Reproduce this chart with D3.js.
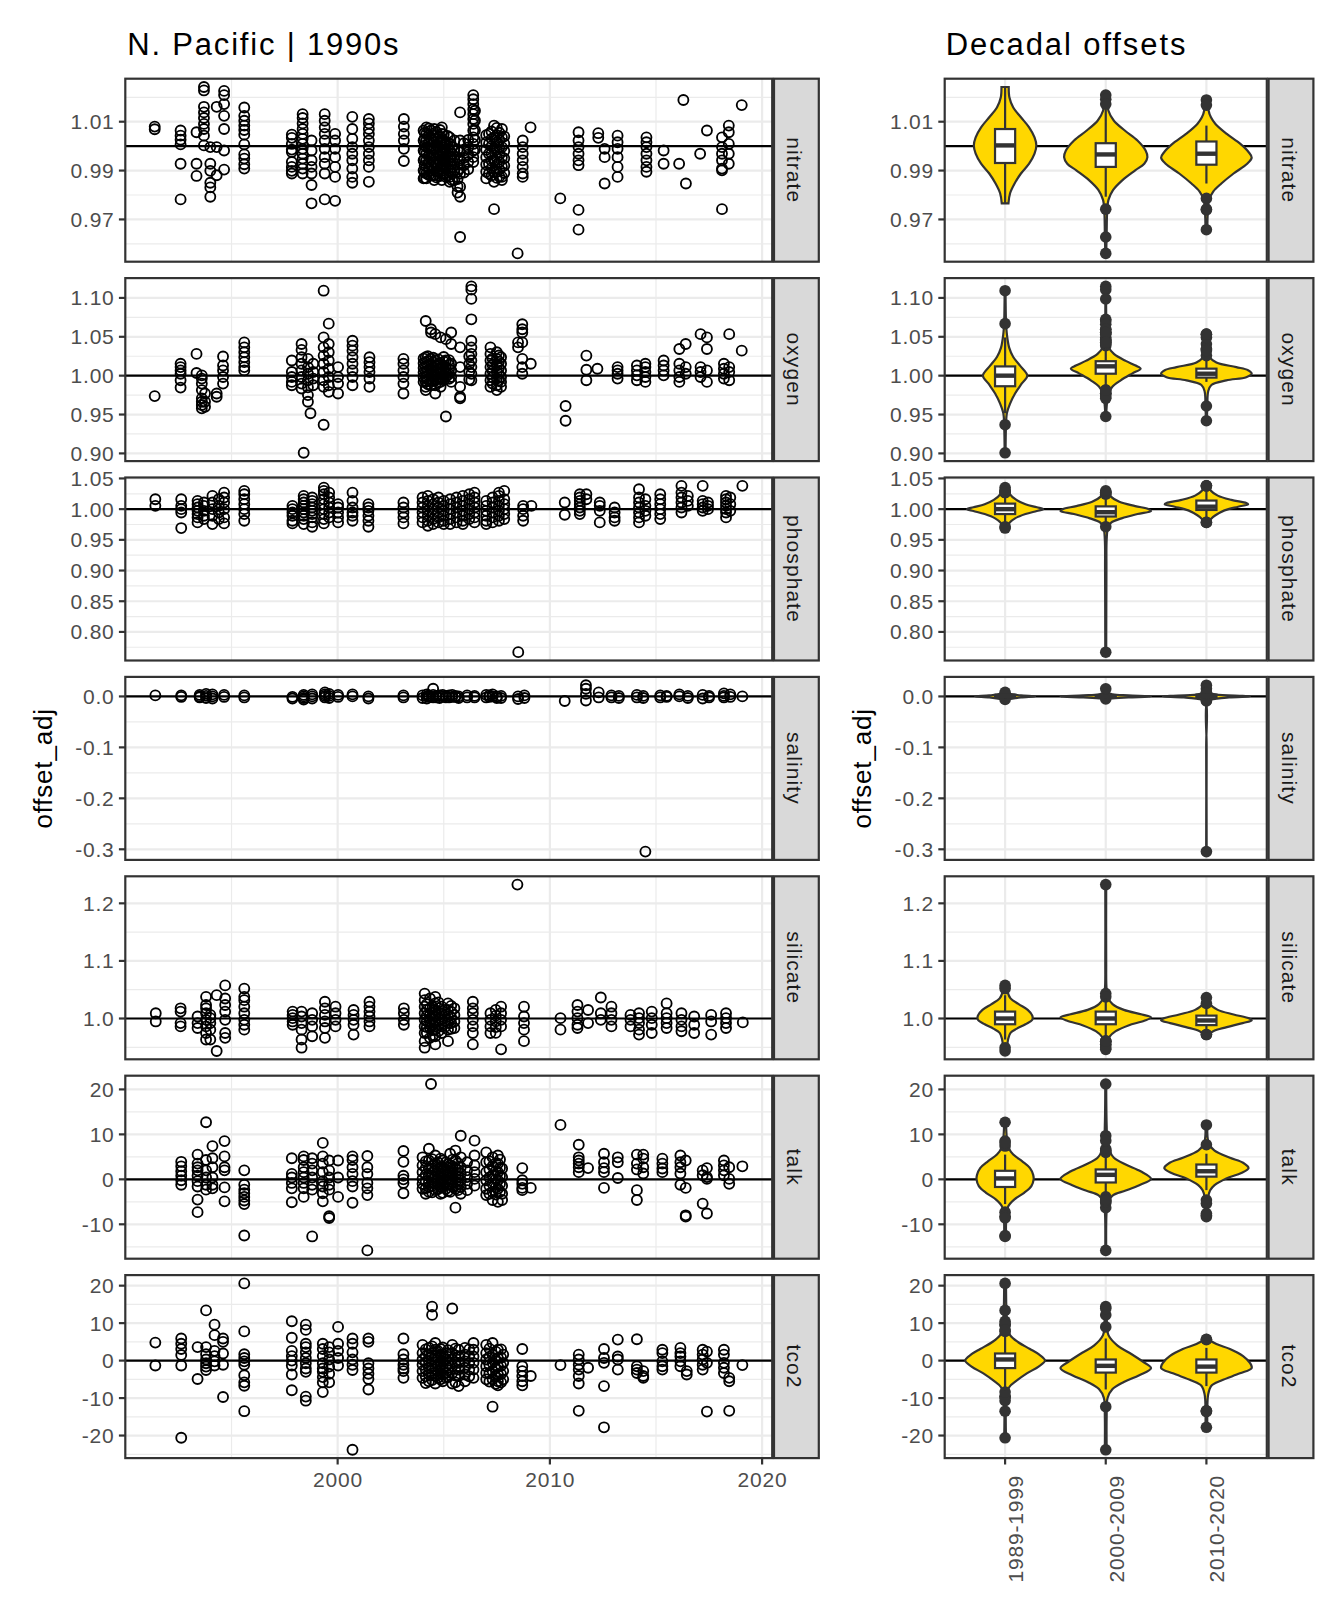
<!DOCTYPE html>
<html>
<head>
<meta charset="utf-8">
<script src="https://cdn.jsdelivr.net/npm/d3@7"></script>
<style>
body{margin:0;background:#fff}
text{font-family:"Liberation Sans",Arial,Helvetica,sans-serif}
</style>
</head>
<body>
<div id="chart"></div>
<script>
var params = ['nitrate','oxygen','phosphate','salinity','silicate','talk','tco2']
var decades = ['1989-1999','2000-2009','2010-2020']
var refLine = [1,1,1,0,1,0,0]
var yTicks = [
	[0.97,0.99,1.01],
	[0.90,0.95,1.00,1.05,1.10],
	[0.80,0.85,0.90,0.95,1.00,1.05],
	[-0.3,-0.2,-0.1,0.0],
	[1.0,1.1,1.2],
	[-10,0,10,20],
	[-20,-10,0,10,20]
]
var yMinor = [
	[0.96,0.98,1.00,1.02],
	[0.875,0.925,0.975,1.025,1.075,1.125],
	[0.775,0.825,0.875,0.925,0.975,1.025],
	[-0.25,-0.15,-0.05,0.05],
	[0.95,1.05,1.15,1.25],
	[-15,-5,5,15],
	[-25,-15,-5,5,15]
]
var yDigits = [2,2,2,1,1,0,0]
var xTicks = [2000,2010,2020]
var xMinor = [1995,2005,2015]

// offsets by cruise: [year, [values]]
var nitrate = [
	[1991.38,[1.008,1.0069]],
	[1992.6,[1.0064,1.0043,1.0026,1.0007,0.9928,0.9782]],
	[1993.35,[1.0057,0.9928,0.9878]],
	[1993.7,[1.0242,1.0228,1.0161,1.0138,1.0115,1.0091,1.007,1.0043,1.0003]],
	[1994.0,[0.9996,0.9928,0.9899,0.985,0.9831,0.9793]],
	[1994.3,[1.0161,0.9996,0.9881]],
	[1994.65,[1.0226,1.0209,1.0172,1.0124,1.007,0.9982,0.9904]],
	[1995.6,[1.0158,1.0124,1.0104,1.0084,1.0066,1.0047,1.0007,0.9966,0.9949,0.9926,0.9908]],
	[1997.84,[1.0047,1.0034,1.0009,0.9986,0.9976,0.9935,0.9915,0.9899,0.9888]],
	[1998.35,[1.0131,1.0115,1.0093,1.007,1.005,1.003,1.0009,0.9989,0.9969,0.9949,0.9928,0.9908,0.9888]],
	[1998.77,[1.0023,0.9982,0.9942,0.9915,0.9888,0.9841,0.9766]],
	[1999.39,[1.0131,1.0104,1.0077,1.005,1.0023,0.9989,0.9955,0.9928,0.9888,0.9782]],
	[1999.88,[1.005,1.0023,0.9989,0.9955,0.9915,0.9874,0.9776]],
	[2000.69,[1.012,1.007,1.003,0.9996,0.9969,0.9942,0.9908,0.9874,0.985]],
	[2001.47,[1.0111,1.0093,1.007,1.005,1.0023,0.9996,0.9969,0.9942,0.9915,0.9854]],
	[2003.12,[1.0111,1.008,1.005,1.0023,0.9989,0.9939]],
	[2004.05,[1.0064,1.0023,0.9982,0.9942,0.9901,0.9868]],
	[2004.1,[1.0055,1.003,1.0002,0.9975,0.9948,0.992,0.9893,0.987]],
	[2004.18,[1.0077,1.005,1.0023,0.9996,0.9969,0.9942,0.9915,0.9888,0.9868]],
	[2004.3,[1.0072,1.0045,1.0018,0.999,0.9963,0.9936,0.9909,0.9882]],
	[2004.4,[1.0064,1.003,0.9989,0.9955,0.9922,0.9881]],
	[2004.55,[1.007,1.0043,1.0016,0.9989,0.9962,0.9935,0.9908,0.9881,0.9861]],
	[2004.65,[1.0058,1.0031,1.0004,0.9977,0.995,0.9923,0.9896,0.9872]],
	[2004.75,[1.0036,0.9996,0.9962,0.9928,0.9895]],
	[2004.82,[1.0066,1.0039,1.0012,0.9985,0.9958,0.9931,0.9904,0.9877]],
	[2004.91,[1.0077,1.005,1.0023,0.9996,0.9969,0.9942,0.9915,0.9888,0.9861]],
	[2005.0,[1.0048,1.0021,0.9994,0.9967,0.994,0.9913,0.9886]],
	[2005.1,[1.0009,0.9976,0.9942,0.9908,0.9874]],
	[2005.18,[1.0042,1.0015,0.9988,0.9961,0.9934,0.9907,0.988]],
	[2005.28,[1.0036,1.0009,0.9982,0.9955,0.9928,0.9901,0.9874,0.9854]],
	[2005.4,[0.9995,0.9968,0.9941,0.9914,0.9887,0.986]],
	[2005.5,[1.0023,0.9982,0.9942,0.9901,0.9861]],
	[2005.65,[0.9985,0.9955,0.9925,0.9895,0.9865,0.9835,0.981]],
	[2005.77,[1.0138,1.0023,0.9976,0.9942,0.9908,0.9888,0.9834,0.9793,0.9628]],
	[2005.95,[1.0012,0.9982,0.9952,0.9922,0.9892]],
	[2006.15,[1.0025,0.9995,0.9965,0.9935,0.9905]],
	[2006.39,[1.0209,1.0192,1.0172,1.0151,1.0131,1.0111,1.0091,1.0064,1.0036,1.0009,0.9982,0.9955,0.9935]],
	[2006.47,[1.0145,1.0105,1.0065,1.0025,0.9985]],
	[2007.0,[1.0045,1.0015,0.9985,0.9955,0.9925,0.9895,0.9868]],
	[2007.13,[1.005,1.0009,0.9969,0.9928,0.9888]],
	[2007.25,[1.006,1.003,1.0,0.997,0.994,0.991,0.988]],
	[2007.37,[1.0084,1.0036,0.9989,0.9942,0.9895,0.9854,0.9742]],
	[2007.5,[1.0075,1.0045,1.0015,0.9985,0.9955,0.9925,0.9895,0.987]],
	[2007.62,[1.0055,1.0025,0.9995,0.9965,0.9935,0.9905,0.9875]],
	[2007.74,[1.007,1.0036,0.9996,0.9955,0.9915,0.9874,0.9861]],
	[2007.85,[1.004,1.001,0.998,0.995,0.992,0.989]],
	[2008.48,[0.9561]],
	[2008.72,[1.0023,0.9996,0.9969,0.9942,0.9915,0.9888,0.9874]],
	[2009.09,[1.0077]],
	[2010.49,[0.9786]],
	[2011.35,[1.0057,1.0023,0.9996,0.9969,0.9942,0.9922,0.9739,0.9658]],
	[2012.28,[1.0053,1.0034]],
	[2012.58,[0.9989,0.9955,0.9847]],
	[2013.19,[1.0043,1.0016,0.9989,0.9955,0.9915,0.9874]],
	[2014.55,[1.0036,1.0016,0.9996,0.9969,0.9942,0.9915,0.9895]],
	[2015.36,[0.9982,0.9928]],
	[2016.09,[0.9928]],
	[2016.29,[1.0189]],
	[2016.41,[0.9847]],
	[2017.08,[0.9969]],
	[2017.4,[1.0064]],
	[2018.11,[1.0036,0.9996,0.9969,0.9942,0.9908,0.9901,0.9742]],
	[2018.43,[1.0084,1.0057,1.0009,0.9969,0.9928]],
	[2019.04,[1.0168]]
]
var oxygen = [
	[1991.38,[0.9737]],
	[1992.6,[1.0153,1.011,1.0068,1.0025,0.9941,0.9847]],
	[1993.35,[1.028,1.0034]],
	[1993.6,[1.0004,0.9962,0.9898,0.9814,0.9708,0.9665,0.9623,0.958]],
	[1993.75,[0.9771,0.9665,0.96]],
	[1994.3,[0.9771,0.9729]],
	[1994.6,[1.0246,1.0131,1.0068,0.9983,0.9898]],
	[1995.6,[1.0428,1.0364,1.0301,1.0237,1.0174,1.011,1.0068]],
	[1997.84,[1.0195,1.0047,0.9983,0.992,0.9877]],
	[1998.3,[1.0407,1.0331,1.0237,1.0153,1.0068,0.9983,0.9898,0.9835]],
	[1998.4,[0.9008]],
	[1998.6,[1.0216,1.011,1.0025,0.9941,0.985,0.975,0.9665]],
	[1998.72,[0.9517]],
	[1998.85,[1.0153,1.0047,0.9962,0.9877]],
	[1999.34,[1.1093,1.0492,1.0364,1.0258,1.0153,1.0047,0.9941,0.9856,0.9369]],
	[1999.58,[1.0669,1.0407,1.0301,1.0195,1.0089,0.9983,0.9877,0.9792]],
	[2000.02,[1.011,0.9983,0.9898,0.9771]],
	[2000.7,[1.0449,1.0386,1.0322,1.0237,1.0153,1.0068,0.9983,0.9877]],
	[2001.5,[1.0237,1.0174,1.011,1.0047,0.9962,0.9856]],
	[2003.1,[1.0216,1.0153,1.0068,0.9983,0.9898,0.9771]],
	[2004.05,[1.022,1.016,1.010,1.004,0.998,0.992]],
	[2004.15,[1.0703,1.0237,1.0174,1.011,1.0047,0.9983,0.992,0.9856,0.9814]],
	[2004.25,[1.025,1.019,1.013,1.007,1.001,0.995,0.989]],
	[2004.4,[1.0597,1.0555,1.0216,1.0131,1.0068,1.0004,0.9941,0.9877]],
	[2004.5,[1.023,1.017,1.011,1.005,0.999,0.993]],
	[2004.6,[1.0534,1.0195,1.0131,1.0068,1.0004,0.9941,0.9877,0.9771]],
	[2004.75,[1.021,1.015,1.009,1.003,0.997,0.991]],
	[2004.85,[1.0492,1.0153,1.0089,1.0025,0.9962,0.992,0.9856]],
	[2005.0,[1.024,1.018,1.012,1.006,1.0,0.994]],
	[2005.1,[1.047,1.0195,1.011,1.0047,0.9983,0.9475]],
	[2005.25,[1.02,1.014,1.008,1.002,0.996]],
	[2005.35,[1.0555,1.0407,1.0153,1.0068,0.9983,0.992]],
	[2005.77,[1.0364,1.011,0.9856,0.9729,0.9708]],
	[2006.2,[1.025,1.015,1.005,0.995]],
	[2006.3,[1.1148,1.1106,1.0987,1.0725,1.0449,1.0364,1.028,1.0195,1.011,1.0025,0.9941]],
	[2007.2,[1.0364,1.028,1.0195,1.011,1.0025,0.9941,0.9856]],
	[2007.3,[1.022,1.014,1.006,0.998,0.99]],
	[2007.5,[1.0301,1.0216,1.0131,1.0047,0.9962,0.9877,0.9814]],
	[2007.6,[1.026,1.018,1.01,1.002,0.994]],
	[2007.7,[1.0237,1.0153,1.0068,0.9983,0.992,0.9856]],
	[2008.5,[1.0364,1.0428]],
	[2008.7,[1.0661,1.0597,1.0555,1.0428,1.0216,1.011,1.0025]],
	[2009.1,[1.0153]],
	[2010.74,[0.961,0.942]],
	[2011.72,[1.0258,1.0076,0.9941]],
	[2012.24,[1.0089]],
	[2013.19,[1.011,1.0068,1.0025,0.9962]],
	[2014.1,[1.0131,1.0068,1.0004,0.9941]],
	[2014.5,[1.0153,1.011,1.0047,0.9983,0.992]],
	[2015.36,[1.0195,1.0131,1.0068,1.0004]],
	[2016.1,[1.0343,1.0153,1.0068,0.9983,0.992]],
	[2016.4,[1.0407,1.011,1.0025]],
	[2017.1,[1.0534,1.011,1.0047,0.9983]],
	[2017.4,[1.0492,1.0343,1.0068,0.992]],
	[2018.2,[1.0153,1.0089,1.0025,0.9962]],
	[2018.45,[1.0534,1.011,1.0047,0.9941]],
	[2019.04,[1.0322]]
]
var phosphate = [
	[1991.41,[1.0162,1.0054]],
	[1992.63,[1.0162,1.0054,1.0,0.9946,0.9692]],
	[1993.4,[1.0135,1.0081,1.0027,0.9973,0.9919,0.9865,0.9784]],
	[1993.7,[1.0108,1.0054,0.9973,0.9892,0.9838]],
	[1994.1,[1.0216,1.0108,1.0,0.9892,0.9757]],
	[1994.4,[1.0162,1.0054,0.9946,0.9838]],
	[1994.65,[1.027,1.0189,1.0108,1.0,0.9865,0.9768]],
	[1995.6,[1.0297,1.0243,1.0162,1.0081,1.0,0.9919,0.9811]],
	[1997.87,[1.0054,1.0,0.9946,0.9892,0.9811,0.9768]],
	[1998.4,[1.0216,1.0162,1.0108,1.0054,1.0,0.9946,0.9892,0.9838,0.9757]],
	[1998.8,[1.0189,1.0135,1.0081,1.0027,0.9973,0.9919,0.9865,0.9784,0.9714]],
	[1999.35,[1.0351,1.0297,1.0243,1.0162,1.0081,1.0,0.9919,0.9838,0.9768]],
	[1999.6,[1.027,1.0189,1.0108,1.0027,0.9946,0.9865]],
	[2000.02,[1.0081,1.0027,0.9946,0.9865,0.9784]],
	[2000.7,[1.027,1.0135,1.0027,0.9946,0.9892,0.9811]],
	[2001.45,[1.0081,1.0027,0.9973,0.9892,0.9811,0.9714]],
	[2003.1,[1.0108,1.0027,0.9946,0.9865,0.9768]],
	[2004.0,[1.0189,1.0108,1.0027,0.9946,0.9865,0.9784]],
	[2004.25,[1.0216,1.0135,1.0054,0.9973,0.9892,0.9811,0.973]],
	[2004.5,[1.0162,1.0081,1.0,0.9919,0.9838,0.9757]],
	[2004.75,[1.0189,1.0108,1.0027,0.9946,0.9865,0.9784]],
	[2005.0,[1.0135,1.0054,0.9973,0.9892,0.9811,0.9757]],
	[2005.3,[1.0162,1.0081,1.0,0.9919,0.9838,0.9757]],
	[2005.6,[1.0189,1.0108,1.0027,0.9946,0.9865,0.9784]],
	[2005.9,[1.0216,1.0135,1.0054,0.9973,0.9892,0.9811,0.9757]],
	[2006.2,[1.0243,1.0162,1.0081,1.0,0.9919,0.9838]],
	[2006.45,[1.027,1.0189,1.0108,1.0027,0.9946,0.9865,0.9784]],
	[2007.0,[1.0135,1.0054,0.9973,0.9892,0.9811,0.9757]],
	[2007.3,[1.0189,1.0108,1.0027,0.9946,0.9865,0.9784]],
	[2007.6,[1.027,1.0216,1.0135,1.0054,0.9973,0.9892,0.9811]],
	[2007.85,[1.0297,1.0162,1.0081,1.0,0.9919,0.9838]],
	[2008.51,[0.767]],
	[2008.74,[1.0054,1.0,0.9892,0.9811]],
	[2009.13,[1.0054]],
	[2010.7,[1.0108,0.9908]],
	[2011.41,[1.0243,1.0189,1.0135,1.0081,1.0027,0.9973,0.9919]],
	[2011.72,[1.0243,1.0162]],
	[2012.35,[1.0108,1.0054,0.9973,0.9784]],
	[2013.05,[1.0027,0.9946,0.9865,0.9811]],
	[2014.2,[1.0324,1.0189,1.0108,1.0027,0.9946,0.9865,0.9784]],
	[2014.5,[1.0162,1.0054,0.9973,0.9892]],
	[2015.2,[1.0243,1.0162,1.0081,1.0,0.9919,0.9838]],
	[2016.2,[1.038,1.027,1.0189,1.0108,1.0027,0.9946]],
	[2016.5,[1.0216,1.0135,1.0054]],
	[2017.2,[1.038,1.0135,1.0081,1.0027,0.9973]],
	[2017.45,[1.0108,1.0054,1.0]],
	[2018.3,[1.0216,1.0162,1.0108,1.0054,1.0,0.9946,0.9865]],
	[2018.5,[1.0189,1.0081,0.9973]],
	[2019.07,[1.038]]
]
var salinity = [
	[1991.41,[0.002]],
	[1992.63,[0.002,-0.001]],
	[1993.5,[0.003,0.0,-0.002]],
	[1993.8,[0.005,0.001,-0.003]],
	[1994.1,[0.004,0.0,-0.004]],
	[1994.65,[0.003,-0.001]],
	[1995.6,[0.002,-0.002]],
	[1997.87,[-0.001,-0.004]],
	[1998.4,[0.003,0.0,-0.003,-0.006]],
	[1998.8,[0.004,0.0,-0.004]],
	[1999.4,[0.008,0.004,0.001,-0.002]],
	[1999.6,[0.005,0.001,-0.003]],
	[2000.02,[0.003,-0.001]],
	[2000.7,[0.004,0.0]],
	[2001.45,[0.0,-0.004]],
	[2003.1,[0.002,-0.002]],
	[2004.0,[0.002,-0.003]],
	[2004.2,[0.004,0.0,-0.004]],
	[2004.3,[0.002,-0.001]],
	[2004.5,[0.015,0.003,-0.002]],
	[2004.65,[0.001,-0.002]],
	[2004.8,[0.002,-0.003]],
	[2004.95,[0.003,0.0]],
	[2005.1,[0.001,-0.002]],
	[2005.25,[0.002,-0.002]],
	[2005.4,[0.003,-0.001]],
	[2005.55,[0.001,-0.001]],
	[2005.7,[0.0,-0.003]],
	[2006.1,[0.002,-0.002]],
	[2006.45,[0.001,-0.002]],
	[2007.0,[0.003,-0.002]],
	[2007.15,[0.002,-0.001]],
	[2007.3,[0.004,0.0]],
	[2007.5,[0.0,-0.003]],
	[2007.7,[0.001,-0.003]],
	[2008.5,[-0.005,0.0]],
	[2008.8,[0.002,-0.003]],
	[2010.7,[-0.009]],
	[2011.7,[0.022,0.015,0.005,-0.008]],
	[2012.3,[0.008,-0.002]],
	[2012.9,[0.002,-0.002]],
	[2013.25,[0.001,-0.003]],
	[2014.1,[0.003,-0.002]],
	[2014.4,[0.001,-0.003]],
	[2014.5,[-0.3045]],
	[2015.2,[0.002,-0.002]],
	[2015.5,[0.001,-0.001]],
	[2016.1,[0.004,0.0]],
	[2016.5,[0.001,-0.003]],
	[2017.2,[0.003,-0.004]],
	[2017.5,[0.001,-0.002]],
	[2018.2,[0.006,0.001,-0.002]],
	[2018.5,[0.004,-0.001]],
	[2019.07,[0.0]]
]
var silicate = [
	[1991.43,[1.0091,0.9949]],
	[1992.6,[1.0177,1.012,0.992,0.9863]],
	[1993.4,[1.0034,0.992,0.9835]],
	[1993.8,[1.0376,1.0234,1.0177,1.0091,0.9977,0.9863,0.9749,0.9635]],
	[1994.0,[1.0063,1.0006,0.992,0.9806,0.9635]],
	[1994.3,[1.0405,0.9436]],
	[1994.7,[1.0575,1.0348,1.0234,1.012,0.9977,0.9749,0.9664]],
	[1995.6,[1.0519,1.0376,1.0319,1.0205,1.0091,0.9977,0.9892,0.9806]],
	[1997.88,[1.012,1.0063,1.0006,0.9949,0.9892]],
	[1998.3,[1.012,1.0034,0.992,0.9806,0.9635,0.9493]],
	[1998.8,[1.0091,0.9977,0.9863,0.9692]],
	[1999.4,[1.0291,1.0177,1.0063,0.9949,0.9835,0.9664]],
	[1999.9,[1.0205,1.0091,0.9977,0.9863]],
	[2000.75,[1.0148,1.0063,0.9977,0.9892,0.9721]],
	[2001.5,[1.0291,1.0205,1.012,1.0034,0.9949,0.9863]],
	[2003.12,[1.0177,1.0091,0.9977,0.9892]],
	[2004.1,[1.0433,1.0319,1.0205,1.0091,0.9977,0.9863,0.9749,0.9607,0.9493]],
	[2004.2,[1.025,1.015,1.005,0.995,0.985,0.975]],
	[2004.35,[1.0348,1.0177,1.0063,0.9949,0.9835,0.9664]],
	[2004.48,[1.02,1.01,1.0,0.99,0.98,0.97]],
	[2004.6,[1.0376,1.0262,1.0148,1.0034,0.992,0.9806,0.9692,0.955]],
	[2004.75,[1.028,1.018,1.008,0.998,0.988,0.978]],
	[2004.9,[1.0205,1.0091,0.9977,0.9863,0.9749]],
	[2005.05,[1.015,1.005,0.995,0.985]],
	[2005.2,[1.0262,1.0148,1.0034,0.992,0.9806,0.9607]],
	[2005.35,[1.022,1.012,1.002,0.992,0.982]],
	[2005.5,[1.0177,1.0063,0.9949,0.9835]],
	[2006.37,[1.0291,1.0177,1.0091,0.9977,0.9863,0.9749,0.955]],
	[2007.2,[1.0091,0.9977,0.9863,0.9749]],
	[2007.45,[1.015,1.005,0.995,0.985,0.975]],
	[2007.7,[1.0205,1.0091,0.9977,0.9863,0.9464]],
	[2008.47,[1.2325]],
	[2008.78,[1.0205,1.0034,0.992,0.9806,0.9607]],
	[2010.5,[1.0006,0.9806]],
	[2011.3,[1.0234,1.012,1.0006,0.9892,0.9835]],
	[2011.8,[1.0148,0.992]],
	[2012.4,[1.0365,1.0091,0.9977]],
	[2012.9,[1.0205,1.0091,0.9977,0.9863]],
	[2013.8,[1.0063,0.9977,0.9863]],
	[2014.2,[1.0091,1.0006,0.992,0.9806,0.9721]],
	[2014.8,[1.012,1.0006,0.9892,0.9749]],
	[2015.5,[1.0262,1.0091,1.0006,0.992,0.9835]],
	[2016.2,[1.0091,0.9977,0.9863,0.9778]],
	[2016.8,[1.0034,0.9892,0.9749]],
	[2017.6,[1.0063,0.9949,0.9721]],
	[2018.3,[1.0091,1.0006,0.992,0.9835]],
	[2019.09,[0.9932]]
]
var talk = [
	[1992.63,[3.9,2.9,1.8,0.8,-0.2,-1.2]],
	[1993.4,[5.5,3.5,2.7,2.0,0.8,-0.4,-1.6,-4.5,-7.3]],
	[1993.8,[12.7,4.3,2.0,0.4,-1.2,-2.3]],
	[1994.1,[7.4,4.7,2.7,0.4,-1.2,-2.0]],
	[1994.67,[8.5,5.1,2.7,2.0,-1.8,-4.9]],
	[1995.6,[2.0,-1.2,-2.3,-3.1,-3.9,-4.7,-5.5,-12.5]],
	[1997.84,[4.7,1.2,0.4,-0.8,-2.0,-5.1]],
	[1998.4,[5.1,4.3,2.7,1.6,0.4,-0.8,-2.0,-3.9]],
	[1998.8,[4.7,3.5,2.0,0.4,-1.2,-2.3,-12.7]],
	[1999.3,[8.1,5.1,3.5,1.6,-0.4,-1.6,-3.1,-4.9]],
	[1999.6,[4.2,2.0,0.4,-1.2,-2.3,-8.2,-8.6]],
	[2000.02,[4.2,0.4,-3.9]],
	[2000.7,[5.1,4.3,2.7,1.2,-0.4,-1.6,-5.2]],
	[2001.4,[5.2,2.7,1.2,-0.8,-2.0,-3.5,-15.8]],
	[2003.1,[6.3,3.9,0.8,0.0,-0.8,-3.1]],
	[2004.0,[4.9,3.1,1.6,0.1,-1.0,-2.1]],
	[2004.15,[4.0,2.5,1.0,-0.5,-2.0,-3.2]],
	[2004.3,[6.8,4.2,2.4,0.9,-0.6,-1.7,-2.8]],
	[2004.4,[21.2]],
	[2004.45,[4.5,3.0,1.5,0.0,-1.5,-2.9]],
	[2004.6,[5.3,3.5,2.0,0.5,-1.0,-2.4]],
	[2004.72,[3.8,2.3,0.8,-0.7,-2.2]],
	[2004.85,[4.6,2.7,1.3,-0.2,-1.7,-3.2]],
	[2004.95,[4.2,2.7,1.2,-0.3,-1.8,-3.0]],
	[2005.1,[3.8,2.2,0.9,-0.6,-2.1]],
	[2005.2,[3.4,1.9,0.4,-1.1,-2.6]],
	[2005.3,[5.7,3.1,1.6,0.1,-1.2,-2.8]],
	[2005.42,[4.4,2.9,1.4,-0.1,-1.6]],
	[2005.55,[6.4,4.2,2.4,0.9,-0.6,-2.1,-6.3]],
	[2005.67,[3.6,2.1,0.6,-0.9,-2.4]],
	[2005.8,[9.7,4.9,2.7,1.3,-0.2,-1.7,-3.2]],
	[2006.1,[3.8,2.0,0.5,-1.0,-2.4]],
	[2006.45,[8.6,5.3,3.1,1.6,0.1,-1.4]],
	[2007.0,[6.0,3.8,1.6,-0.2,-2.1,-3.5]],
	[2007.15,[4.0,2.2,0.4,-1.4,-3.2]],
	[2007.3,[4.9,2.9,0.9,-1.0,-2.8,-4.6]],
	[2007.45,[3.6,1.8,0.0,-1.8,-3.4]],
	[2007.55,[5.3,3.5,1.6,-0.2,-2.1,-5.0]],
	[2007.65,[4.4,2.6,0.8,-1.0,-2.8]],
	[2007.75,[2.4,0.5,-1.4,-3.2,-4.6]],
	[2008.7,[2.5,-0.2,-1.0,-1.9,-2.4]],
	[2009.1,[-1.9]],
	[2010.5,[12.1]],
	[2011.36,[7.7,4.9,4.2,3.5,2.7,1.6]],
	[2011.8,[2.5]],
	[2012.55,[5.7,3.8,2.5,1.6,-1.9]],
	[2013.2,[4.9,3.8,0.3]],
	[2014.1,[5.5,3.5,2.2,-2.4,-4.6]],
	[2014.4,[5.5,4.6,2.7,1.3]],
	[2015.3,[4.6,3.5,2.4,1.6]],
	[2016.15,[5.3,3.8,2.7,1.3,-1.2]],
	[2016.4,[4.2,-1.9,-8.3,-8.0]],
	[2017.2,[2.0,0.9,-5.4]],
	[2017.4,[2.5,0.5,0.1,-7.6]],
	[2018.2,[4.2,3.1,2.0,0.9]],
	[2018.45,[2.7,0.1,-1.0]],
	[2019.07,[2.9]]
]
var tco2 = [
	[1991.41,[4.8,-1.3]],
	[1992.63,[5.9,4.5,3.1,1.5,-1.3,-20.6]],
	[1993.4,[3.6,-4.9]],
	[1993.8,[13.4,3.6,1.7,0.3,-0.7,-1.6,-2.5]],
	[1994.2,[9.6,6.8,2.6,1.2,-0.2,-1.3]],
	[1994.6,[5.9,5.0,1.9,-1.1,-9.7]],
	[1995.6,[20.6,7.8,1.7,0.7,-0.2,-1.1,-3.9,-5.8,-6.7,-13.5]],
	[1997.84,[10.5,6.1,2.6,1.2,0.0,-1.3,-3.7,-7.9]],
	[1998.5,[9.6,8.2,4.5,3.6,2.2,0.7,-0.7,-2.1,-3.0,-9.6,-10.7]],
	[1999.3,[4.5,3.1,1.2,-0.7,-2.1,-3.0,-4.4,-5.8,-8.4]],
	[1999.6,[3.6,2.2,0.3,-1.6,-3.5,-5.8]],
	[2000.02,[9.0,4.5,2.6,0.7,-1.3]],
	[2000.7,[5.9,4.5,2.2,0.3,-1.1,-2.5,-23.8]],
	[2001.45,[5.9,5.0,-0.7,-2.1,-3.5,-4.9,-7.7]],
	[2003.1,[5.9,1.7,0.3,-1.1,-2.1,-2.8,-4.6]],
	[2004.0,[4.2,2.0,0.3,-1.1,-2.8,-4.6]],
	[2004.15,[3.0,1.2,-0.6,-2.4,-4.2,-6.0]],
	[2004.3,[3.4,1.6,-0.2,-1.9,-3.7,-5.5]],
	[2004.45,[14.4,12.2,3.8,2.0,0.2,-1.6,-3.4,-5.2]],
	[2004.6,[4.7,2.9,1.1,-0.6,-2.4,-4.1,-6.1]],
	[2004.72,[2.6,0.8,-1.0,-2.8,-4.6]],
	[2004.85,[3.1,1.6,-0.2,-1.5,-3.3,-5.0]],
	[2004.95,[3.5,1.7,-0.1,-1.9,-3.7,-5.5]],
	[2005.1,[2.0,0.3,-1.5,-3.3,-4.6]],
	[2005.2,[2.8,1.0,-0.8,-2.6,-4.4]],
	[2005.4,[13.9,4.2,2.0,0.3,-1.5,-3.3,-6.1]],
	[2005.55,[3.2,1.4,-0.4,-2.2,-4.0,-5.8]],
	[2005.7,[2.9,1.1,-0.6,-2.4,-4.1,-6.8]],
	[2006.0,[3.4,1.6,-0.2,-1.9,-3.7,-5.5]],
	[2006.2,[3.0,1.2,-0.6,-2.4,-4.2]],
	[2006.4,[4.7,2.9,1.1,-0.6,-2.4,-4.6]],
	[2007.0,[4.2,2.0,0.3,-1.5,-3.3,-5.0]],
	[2007.15,[3.2,1.0,-1.2,-3.4,-5.6]],
	[2007.3,[4.7,1.6,-0.6,-2.8,-5.0,-12.3]],
	[2007.45,[2.4,0.2,-2.0,-4.2,-6.2]],
	[2007.55,[2.9,0.7,-1.5,-3.7,-5.5,-6.6]],
	[2007.7,[3.0,0.8,-1.4,-3.6,-5.8]],
	[2007.8,[1.6,-0.6,-2.8,-5.0]],
	[2008.7,[3.1,-1.5,-2.8,-4.1,-5.5,-6.6]],
	[2009.1,[-4.1]],
	[2010.5,[-1.2]],
	[2011.36,[1.6,0.3,-1.1,-2.4,-4.1,-6.1,-13.4]],
	[2011.8,[-1.9]],
	[2012.55,[3.1,0.7,-0.6,-6.8,-17.8]],
	[2013.2,[5.6,1.1,0.3,-2.4]],
	[2014.1,[5.7,-1.5,-2.4,-3.3]],
	[2014.4,[-2.8,-4.1,-4.6]],
	[2015.3,[2.9,2.0,-0.2,-1.5,-2.4]],
	[2016.15,[3.4,2.0,1.1,-0.2,-1.5]],
	[2016.45,[-2.8,-3.7]],
	[2017.2,[2.9,1.6,0.3,-1.1,-2.4]],
	[2017.4,[2.4,-0.6,-13.6]],
	[2018.2,[2.9,1.6,-0.6,-1.9,-3.3]],
	[2018.45,[-4.6,-5.5,-13.4]],
	[2019.07,[-1.2]]
]

// violin outlines per decade: [value, density relative to widest violin in the row]
var nitrateViolin = [
	[[1.0242,.08],[1.0199,.096],[1.0158,.18],[1.0118,.35],[1.0077,.53],[1.0036,.65],[1.0003,.69],[.9969,.65],[.9928,.53],[.9888,.35],[.9847,.21],[.9807,.11],[.9766,.074]],
	[[1.0209,.03],[1.0145,.06],[1.0104,.18],[1.0064,.42],[1.0023,.70],[.9982,.88],[.9955,.92],[.9928,.85],[.9901,.65],[.9861,.37],[.982,.16],[.978,.06],[.9726,.03],[.9645,.02],[.9561,.01]],
	[[1.0189,.05],[1.0145,.05],[1.0118,.1],[1.0091,.2],[1.005,.45],[1.0009,.75],[.9976,.93],[.9953,1],[.9928,.9],[.9888,.6],[.9847,.33],[.9814,.15],[.978,.06],[.9726,.03],[.9658,.02]]
]
var oxygenViolin = [
	[[1.1093,.01],[1.07,.02],[1.053,.04],[1.036,.09],[1.024,.18],[1.013,.33],[1.0,.49],[.99,.37],[.977,.22],[.964,.11],[.952,.04],[.935,.02],[.9008,.01]],
	[[1.1148,.01],[1.06,.02],[1.036,.07],[1.028,.18],[1.019,.44],[1.013,.66],[1.009,.77],[1.003,.59],[.994,.33],[.986,.15],[.977,.06],[.96,.02],[.9475,.01]],
	[[1.0534,.02],[1.035,.03],[1.024,.07],[1.017,.22],[1.011,.66],[1.007,.92],[1.0025,1],[.998,.88],[.994,.44],[.988,.11],[.98,.04],[.96,.02],[.942,.01]]
]
var phosphateViolin = [
	[[1.0351,.05],[1.025,.1],[1.015,.25],[1.008,.45],[1.003,.7],[1.0,.84],[.997,.7],[.992,.45],[.985,.22],[.978,.1],[.9692,.05]],
	[[1.0297,.05],[1.02,.12],[1.012,.3],[1.005,.65],[1.0,.95],[.997,1],[.992,.7],[.985,.35],[.978,.12],[.97,.05],[.95,.02],[.9,.015],[.767,.01]],
	[[1.038,.05],[1.03,.1],[1.022,.25],[1.015,.55],[1.01,.88],[1.008,.92],[1.004,.7],[.998,.4],[.99,.2],[.984,.1],[.9784,.05]]
]
var salinityViolin = [
	[[.008,.02],[.005,.1],[.002,.35],[0,.66],[-.002,.35],[-.005,.1],[-.006,.02]],
	[[.015,.01],[.008,.03],[.004,.15],[.002,.5],[0,1],[-.002,.5],[-.004,.1],[-.005,.02]],
	[[.022,.01],[.01,.03],[.004,.2],[.001,.8],[0,.96],[-.002,.5],[-.006,.1],[-.009,.02],[-.1,.005],[-.3045,.005]]
]
var silicateViolin = [
	[[1.0575,.04],[1.045,.06],[1.035,.12],[1.025,.3],[1.015,.5],[1.005,.6],[.998,.6],[.99,.45],[.982,.25],[.975,.12],[.965,.07],[.955,.05],[.9436,.04]],
	[[1.2325,.01],[1.1,.01],[1.05,.02],[1.035,.06],[1.025,.15],[1.015,.4],[1.007,.8],[1.002,1],[.996,.85],[.988,.5],[.978,.22],[.968,.08],[.955,.03],[.9464,.02]],
	[[1.0365,.04],[1.025,.08],[1.015,.25],[1.007,.6],[1.0,.95],[.997,1],[.992,.8],[.985,.45],[.978,.15],[.9721,.05]]
]
var talkViolin = [
	[[12.7,.02],[9,.04],[7,.08],[5.5,.18],[4,.38],[2.5,.55],[1,.62],[0,.63],[-1.5,.58],[-3,.42],[-4.5,.2],[-6,.07],[-8,.03],[-12.7,.02]],
	[[21.2,.01],[12,.02],[8,.04],[6,.1],[4.8,.18],[3.3,.44],[1.8,.77],[.1,1],[-1.3,.74],[-2.5,.44],[-3.6,.15],[-5,.05],[-7,.02],[-15.8,.01]],
	[[12.1,.02],[9,.03],[7.5,.08],[6.4,.18],[4.8,.52],[3.7,.81],[2.5,.93],[1.4,.77],[.2,.44],[-1.3,.18],[-2.5,.08],[-4,.04],[-8.3,.02]]
]
var tco2Violin = [
	[[20.6,.02],[13,.03],[9,.05],[6.8,.11],[4.9,.29],[3.1,.55],[1.7,.74],[0,.88],[-1.6,.74],[-3.4,.48],[-5.3,.26],[-7.1,.09],[-10,.03],[-20.6,.02]],
	[[14.4,.02],[9,.03],[6.8,.06],[4,.26],[2.1,.52],[-.2,.81],[-2,1],[-3.9,.74],[-5.7,.4],[-7.6,.15],[-10,.04],[-15,.02],[-23.8,.02]],
	[[5.7,.04],[4.4,.22],[3.1,.52],[1.2,.81],[-.6,.96],[-2,1],[-3.4,.74],[-5.3,.33],[-6.7,.11],[-9,.04],[-13,.02],[-17.8,.02]]
]

// boxplot stats per decade: [lower whisker, q1, median, q3, upper whisker]
var nitrateBox = [[.9766,.9931,1.0003,1.007,1.0242],[.9793,.9915,.9966,1.0012,1.0151],[.9847,.9924,.9969,1.0019,1.0084]]
var oxygenBox = [[.9517,.9864,1.0,1.0119,1.0492],[.9856,1.0025,1.012,1.0186,1.0364],[.992,.9975,1.0025,1.009,1.0195]]
var phosphateBox = [[.975,.992,1.0,1.009,1.0243],[.973,.988,.995,1.0045,1.0216],[.9811,.9987,1.004,1.014,1.0324]]
var salinityBox = [[-.004,-.001,.001,.003,.005],[-.004,-.002,0,.002,.004],[-.003,-.002,.001,.003,.005]]
var silicateBox = [[.9635,.99,1.0,1.012,1.0405],[.9664,.99,1.0,1.012,1.0348],[.9749,.9885,.9966,1.005,1.0234]]
var talkBox = [[-5.5,-1.7,.2,1.9,5.5],[-3.6,-.7,1.0,2.2,5.7],[-2.4,.6,1.8,3.3,5.7]]
var tco2Box = [[-7.9,-2,.3,1.9,6.8],[-7.7,-3.2,-1.4,.3,5.9],[-6.8,-3.2,-1.6,.3,3.4]]

var offsets = [nitrate,oxygen,phosphate,salinity,silicate,talk,tco2]
var violins = [nitrateViolin,oxygenViolin,phosphateViolin,salinityViolin,silicateViolin,talkViolin,tco2Violin]
var boxes = [nitrateBox,oxygenBox,phosphateBox,salinityBox,silicateBox,talkBox,tco2Box]

var width = 1344
var height = 1612
var fs = 21
var rowTop = 78.7
var rowH = 183
var rowStep = 199.4
var left  = {x0:125.3, x1:772.2, s0:774, s1:818.8}
var right = {x0:944.7, x1:1266.8, s0:1268.6, s1:1313.4}
var grey20 = '#333333'

var svg = d3.select('#chart').append('svg')
	.attr('width', width)
	.attr('height', height)
svg.append('rect').attr('width',width).attr('height',height).attr('fill','#fff')

var years = d3.merge(offsets.map(p=>p.map(c=>c[0])))
var xe = d3.extent(years)
var xpad = (xe[1]-xe[0])*0.05
var x = d3.scaleLinear().domain([xe[0]-xpad, xe[1]+xpad]).range([left.x0, left.x1])
var xc = d3.scalePoint().domain(decades).range([right.x0, right.x1]).padding(0.6)
var step = xc.step()

function decadeOf(yr){ return yr<2000 ? 0 : (yr<2010 ? 1 : 2) }

function drawFrame(g, p, top, y, i, vMajor, vMinor){
	var bottom = top + rowH
	var dom = y.domain()
	var inDom = v => v>=Math.min(dom[0],dom[1]) && v<=Math.max(dom[0],dom[1])
	g.append('rect').attr('x',p.x0).attr('y',top).attr('width',p.x1-p.x0).attr('height',rowH).attr('fill','#fff')
	yMinor[i].filter(inDom).forEach(t=>{
		g.append('line').attr('x1',p.x0).attr('x2',p.x1).attr('y1',y(t)).attr('y2',y(t))
		 .attr('stroke','#EBEBEB').attr('stroke-width',1.2)
	})
	vMinor.forEach(v=>{
		g.append('line').attr('x1',v).attr('x2',v).attr('y1',top).attr('y2',bottom)
		 .attr('stroke','#EBEBEB').attr('stroke-width',1.2)
	})
	yTicks[i].forEach(t=>{
		g.append('line').attr('x1',p.x0).attr('x2',p.x1).attr('y1',y(t)).attr('y2',y(t))
		 .attr('stroke','#EBEBEB').attr('stroke-width',2.2)
	})
	vMajor.forEach(v=>{
		g.append('line').attr('x1',v).attr('x2',v).attr('y1',top).attr('y2',bottom)
		 .attr('stroke','#EBEBEB').attr('stroke-width',2.2)
	})
	// y axis ticks and labels
	var fmt = d3.format('.'+yDigits[i]+'f')
	yTicks[i].forEach(t=>{
		g.append('line').attr('x1',p.x0-6.4).attr('x2',p.x0).attr('y1',y(t)).attr('y2',y(t))
		 .attr('stroke',grey20).attr('stroke-width',2.2)
		g.append('text').attr('x',p.x0-10.7).attr('y',y(t)+0.36*fs)
		 .attr('text-anchor','end').attr('font-size',fs).attr('fill','#4D4D4D')
		 .attr('letter-spacing',0.8)
		 .text(fmt(t).replace('\u2212','-'))
	})
	// reference line
	g.append('line').attr('x1',p.x0).attr('x2',p.x1)
	 .attr('y1',y(refLine[i])).attr('y2',y(refLine[i]))
	 .attr('stroke','#000').attr('stroke-width',2.2)
}

function drawBorder(g, p, top, i){
	g.append('rect').attr('x',p.x0).attr('y',top).attr('width',p.x1-p.x0).attr('height',rowH)
	 .attr('fill','none').attr('stroke',grey20).attr('stroke-width',2.2)
	g.append('rect').attr('x',p.s0).attr('y',top).attr('width',p.s1-p.s0).attr('height',rowH)
	 .attr('fill','#D9D9D9').attr('stroke',grey20).attr('stroke-width',2.2)
	var cx = (p.s0+p.s1)/2 - 0.43*fs
	g.append('text').attr('transform','translate('+cx+','+(top+rowH/2)+') rotate(90)')
	 .attr('text-anchor','middle').attr('font-size',fs).attr('fill','#1A1A1A')
	 .attr('letter-spacing',1.1)
	 .text(params[i])
}

params.forEach((name,i)=>{
	var top = rowTop + i*rowStep
	var pts = []
	offsets[i].forEach(c=>c[1].forEach(v=>pts.push({year:c[0], v:v, g:decadeOf(c[0])})))
	var ye = d3.extent(pts, d=>d.v)
	var ypad = (ye[1]-ye[0])*0.05
	var y = d3.scaleLinear().domain([ye[0]-ypad, ye[1]+ypad]).range([top+rowH, top])

	// left: offsets by year
	var gl = svg.append('g').attr('class','left '+name)
	drawFrame(gl, left, top, y, i, xTicks.map(x), xMinor.filter(t=>t>=x.domain()[0]&&t<=x.domain()[1]).map(x))
	gl.append('g').selectAll('circle').data(pts).join('circle')
	  .attr('cx',d=>x(d.year)).attr('cy',d=>y(d.v)).attr('r',5.0)
	  .attr('fill','none').attr('stroke','#000').attr('stroke-width',1.85)
	drawBorder(gl, left, top, i)

	// right: decadal violins + boxplots
	var gr = svg.append('g').attr('class','right '+name)
	drawFrame(gr, right, top, y, i, decades.map(d=>xc(d)), [])
	decades.forEach((dec,k)=>{
		var cx = xc(dec)
		var area = d3.area()
			.y(d=>y(d[0]))
			.x0(d=>cx - d[1]*0.9*step/2)
			.x1(d=>cx + d[1]*0.9*step/2)
			.curve(d3.curveCatmullRom.alpha(0.5))
		gr.append('path').datum(violins[i][k]).attr('d',area)
		  .attr('fill','#FFD700').attr('stroke',grey20).attr('stroke-width',2.2)
	})
	decades.forEach((dec,k)=>{
		var cx = xc(dec)
		var b = boxes[i][k]
		var bw = 0.2*step
		var outl = pts.filter(d=>d.g===k && (d.v<b[0] || d.v>b[4]))
		gr.append('g').selectAll('circle').data(outl).join('circle')
		  .attr('cx',cx).attr('cy',d=>y(d.v)).attr('r',5.8).attr('fill',grey20)
		gr.append('line').attr('x1',cx).attr('x2',cx).attr('y1',y(b[3])).attr('y2',y(b[4]))
		  .attr('stroke',grey20).attr('stroke-width',2.2)
		gr.append('line').attr('x1',cx).attr('x2',cx).attr('y1',y(b[1])).attr('y2',y(b[0]))
		  .attr('stroke',grey20).attr('stroke-width',2.2)
		gr.append('rect').attr('x',cx-bw/2).attr('width',bw)
		  .attr('y',y(b[3])).attr('height',y(b[1])-y(b[3]))
		  .attr('fill','#fff').attr('stroke',grey20).attr('stroke-width',2.2)
		gr.append('line').attr('x1',cx-bw/2).attr('x2',cx+bw/2).attr('y1',y(b[2])).attr('y2',y(b[2]))
		  .attr('stroke',grey20).attr('stroke-width',4.4)
	})
	drawBorder(gr, right, top, i)
})

// bottom axes
var bottom = rowTop + 6*rowStep + rowH
xTicks.forEach(t=>{
	svg.append('line').attr('x1',x(t)).attr('x2',x(t)).attr('y1',bottom).attr('y2',bottom+6.4)
	   .attr('stroke',grey20).attr('stroke-width',2.2)
	svg.append('text').attr('x',x(t)+0.4).attr('y',bottom+28.8).attr('text-anchor','middle')
	   .attr('font-size',fs).attr('fill','#4D4D4D').attr('letter-spacing',0.8).text(t)
})
decades.forEach(d=>{
	svg.append('line').attr('x1',xc(d)).attr('x2',xc(d)).attr('y1',bottom).attr('y2',bottom+6.4)
	   .attr('stroke',grey20).attr('stroke-width',2.2)
	svg.append('text').attr('transform','translate('+(xc(d)+17.8)+','+(bottom+16.8)+') rotate(-90)')
	   .attr('text-anchor','end').attr('font-size',fs).attr('fill','#4D4D4D')
	   .attr('letter-spacing',0.8).text(d)
})

// titles
var midY = rowTop + (6*rowStep + rowH)/2
svg.append('text').attr('x',left.x0+2).attr('y',55).attr('font-size',31).attr('fill','#000')
   .attr('letter-spacing',1.8).text('N. Pacific | 1990s')
svg.append('text').attr('x',right.x0+1).attr('y',55).attr('font-size',31).attr('fill','#000')
   .attr('letter-spacing',1.9).text('Decadal offsets')
svg.append('text').attr('transform','translate(51.5,'+midY+') rotate(-90)')
   .attr('text-anchor','middle').attr('font-size',26).attr('fill','#000')
   .attr('letter-spacing',0.8).text('offset_adj')
svg.append('text').attr('transform','translate(871,'+midY+') rotate(-90)')
   .attr('text-anchor','middle').attr('font-size',26).attr('fill','#000')
   .attr('letter-spacing',0.8).text('offset_adj')
</script>
</body>
</html>
